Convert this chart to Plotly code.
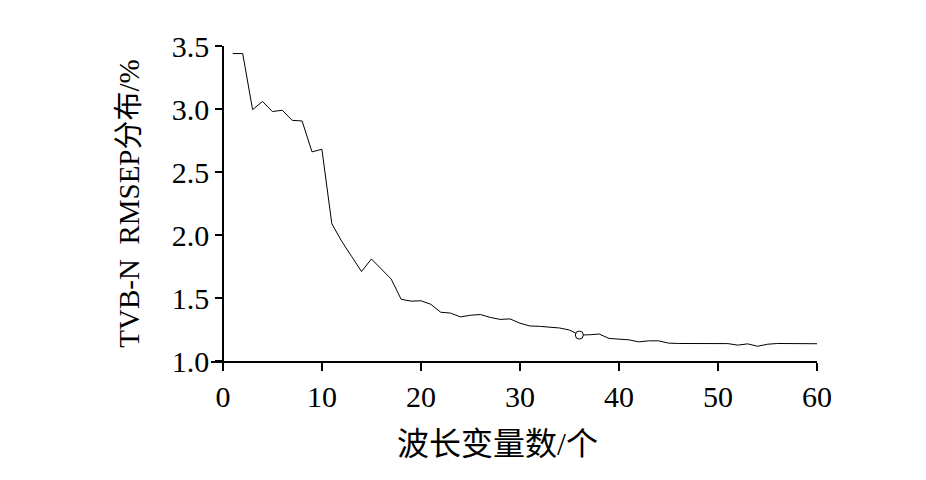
import plotly.graph_objects as go

n_vars = list(range(1, 61))
rmsep = [3.44, 3.44, 2.995, 3.06, 2.98, 2.99, 2.91, 2.905, 2.66, 2.68,
         2.09, 1.95, 1.83, 1.71, 1.81, 1.73, 1.65, 1.49, 1.475, 1.478,
         1.45, 1.387, 1.38, 1.35, 1.363, 1.369, 1.346, 1.33, 1.334, 1.30,
         1.278, 1.275, 1.27, 1.262, 1.246, 1.206, 1.208, 1.214, 1.179, 1.174,
         1.168, 1.152, 1.16, 1.16, 1.142, 1.139, 1.139, 1.139, 1.14, 1.14,
         1.138, 1.126, 1.136, 1.117, 1.133, 1.139, 1.138, 1.138, 1.138, 1.137]
best_x = [36]
best_y = [1.206]

x_ticks = [0, 10, 20, 30, 40, 50, 60]
y_ticks = [1.0, 1.5, 2.0, 2.5, 3.0, 3.5]
y_ticklabels = ["1.0", "1.5", "2.0", "2.5", "3.0", "3.5"]
x_title = "波长变量数/个"
y_title = "TVB-N  RMSEP分布/%"

font_fam = "Liberation Serif, Times New Roman, Noto Sans CJK SC, serif"

fig = go.Figure()
fig.add_trace(go.Scatter(x=n_vars, y=rmsep, mode="lines",
                         line=dict(color="black", width=1), showlegend=False))
fig.add_trace(go.Scatter(x=best_x, y=best_y, mode="markers",
                         marker=dict(symbol="circle", size=8, color="white",
                                     line=dict(color="black", width=1)),
                         showlegend=False))

x_min, x_max = -1.2, 60
fig.update_layout(
    width=926, height=480,
    margin=dict(l=203, r=117, t=38, b=127),
    paper_bgcolor="white", plot_bgcolor="white",
    font=dict(family=font_fam, color="black", size=30),
    xaxis=dict(range=[x_min, x_max], tickvals=x_ticks, ticks="outside",
               ticklen=8, tickwidth=1.5, tickcolor="black",
               showline=True, linecolor="black", linewidth=1.5,
               showgrid=False, zeroline=False,
               tickfont=dict(size=30, family=font_fam)),
    yaxis=dict(range=[1.0, 3.5], tickvals=y_ticks, ticktext=y_ticklabels,
               anchor="free", position=(0 - x_min) / (x_max - x_min),
               ticks="outside", ticklen=7, tickwidth=1.5, tickcolor="black",
               showline=True, linecolor="black", linewidth=1.5,
               showgrid=False, zeroline=False,
               tickfont=dict(size=30, family=font_fam),
               title=dict(text=y_title, standoff=22,
                          font=dict(size=29, family=font_fam))),
    annotations=[dict(text=x_title, xref="paper", yref="paper",
                      x=0.472, y=-0.265, xanchor="center", yanchor="middle",
                      showarrow=False, font=dict(size=32, family=font_fam))],
)

fig.write_html("out.html")
